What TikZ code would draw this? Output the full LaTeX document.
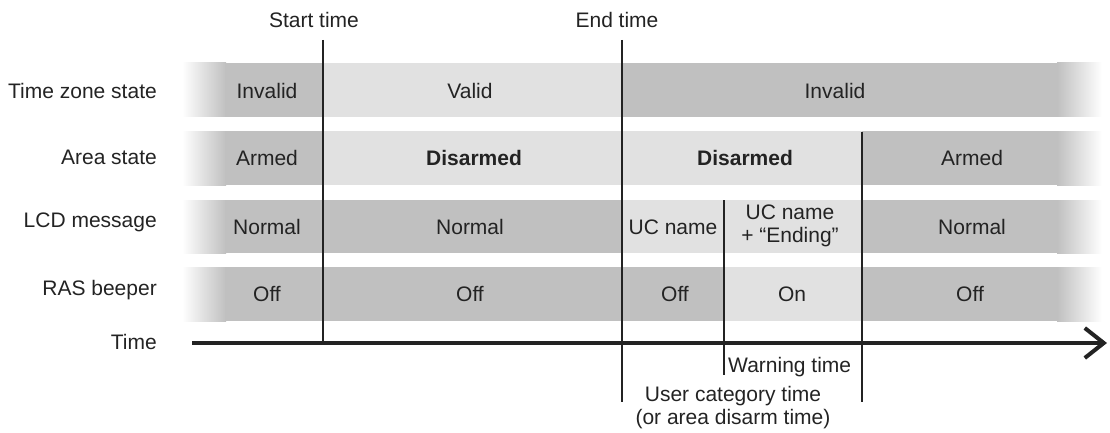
\documentclass[tikz,border=0pt]{standalone}
\usepackage{fontspec}
\setmainfont{Liberation Sans}
\usetikzlibrary{arrows.meta}
\definecolor{bandDark}{RGB}{192,192,192}
\definecolor{bandLight}{RGB}{225,225,225}
\definecolor{ink}{RGB}{35,35,35}
\tikzset{
  dk/.style={fill=bandDark},
  lt/.style={fill=bandLight},
  tline/.style={draw=ink, line width=2pt},
  rowlabel/.style={anchor=east, text=ink, inner sep=0pt},
  cell/.style={text=ink, align=center, inner sep=0pt}
}
\begin{document}
\begin{tikzpicture}[x=1pt,y=-1pt,font=\fontsize{21}{23}\selectfont]
\useasboundingbox (0,0) rectangle (1110,433);
% bands, faded at both ends
\foreach \ya/\yb in {63/117,131/185,200/253,267/321}{
  \shade[left color=white,right color=bandDark] (182,\ya) rectangle (226,\yb);
  \shade[left color=bandDark,right color=white] (1057,\ya) rectangle (1102,\yb);
}
\fill[dk] (225,63) rectangle (323,117); \fill[lt] (323,63) rectangle (622,117); \fill[dk] (622,63) rectangle (1058,117);
\fill[dk] (225,131) rectangle (323,185); \fill[lt] (323,131) rectangle (862,185); \fill[dk] (862,131) rectangle (1058,185);
\fill[dk] (225,200) rectangle (622,253); \fill[lt] (622,200) rectangle (862,253); \fill[dk] (862,200) rectangle (1058,253);
\fill[dk] (225,267) rectangle (724,321); \fill[lt] (724,267) rectangle (862,321); \fill[dk] (862,267) rectangle (1058,321);
% row labels
\node[rowlabel] (lzone) at (157,91) {Time zone state};
\node[rowlabel] (larea) at (157,157) {Area state};
\node[rowlabel] (llcd) at (157,222) {LCD message};
\node[rowlabel] (lras) at (157,290) {RAS beeper};
\node[rowlabel] (ltime) at (157,342) {Time};
% cells
\node[cell] (zone1) at (267,91) {Invalid};
\node[cell] (zone2) at (470,91) {Valid};
\node[cell] (zone3) at (835,91) {Invalid};
\node[cell] (area1) at (267,158) {Armed};
\node[cell] (area2) at (474,158) {\bfseries Disarmed};
\node[cell] (area3) at (745,158) {\bfseries Disarmed};
\node[cell] (area4) at (972,158) {Armed};
\node[cell] (lcd1) at (267,227) {Normal};
\node[cell] (lcd2) at (470,227) {Normal};
\node[cell] (lcd3) at (673,227) {UC name};
\node[cell] (lcd4) at (790,226) {UC name\\+ ``Ending''};
\node[cell] (lcd5) at (972,227) {Normal};
\node[cell] (ras1) at (267,294) {Off};
\node[cell] (ras2) at (470,294) {Off};
\node[cell] (ras3) at (675,294) {Off};
\node[cell] (ras4) at (792,294) {On};
\node[cell] (ras5) at (970,294) {Off};
% time axis
\coordinate (t0) at (192,343); \coordinate (t1) at (1107,343);
\draw[draw=ink, line width=4pt, -{Straight Barb[length=19pt,width=30pt]}] (t0) -- (t1);
% event lines
\coordinate (start top) at (323,40); \coordinate (start bot) at (323,343);
\coordinate (end top) at (622,40); \coordinate (end bot) at (622,402);
\coordinate (arm top) at (862,132); \coordinate (arm bot) at (862,402);
\coordinate (warn top) at (724,200); \coordinate (warn bot) at (724,375);
\draw[tline] (start top) -- (start bot);
\draw[tline] (end top) -- (end bot);
\draw[tline] (arm top) -- (arm bot);
\draw[tline] (warn top) -- (warn bot);
% event labels
\node[cell] (lstart) at (314,20) {Start time};
\node[cell] (lend) at (617,20) {End time};
\node[cell, anchor=west] (lwarn) at (728,367) {Warning time};
\node[cell] (luc) at (733,408) {User category time\\(or area disarm time)};
\end{tikzpicture}
\end{document}
